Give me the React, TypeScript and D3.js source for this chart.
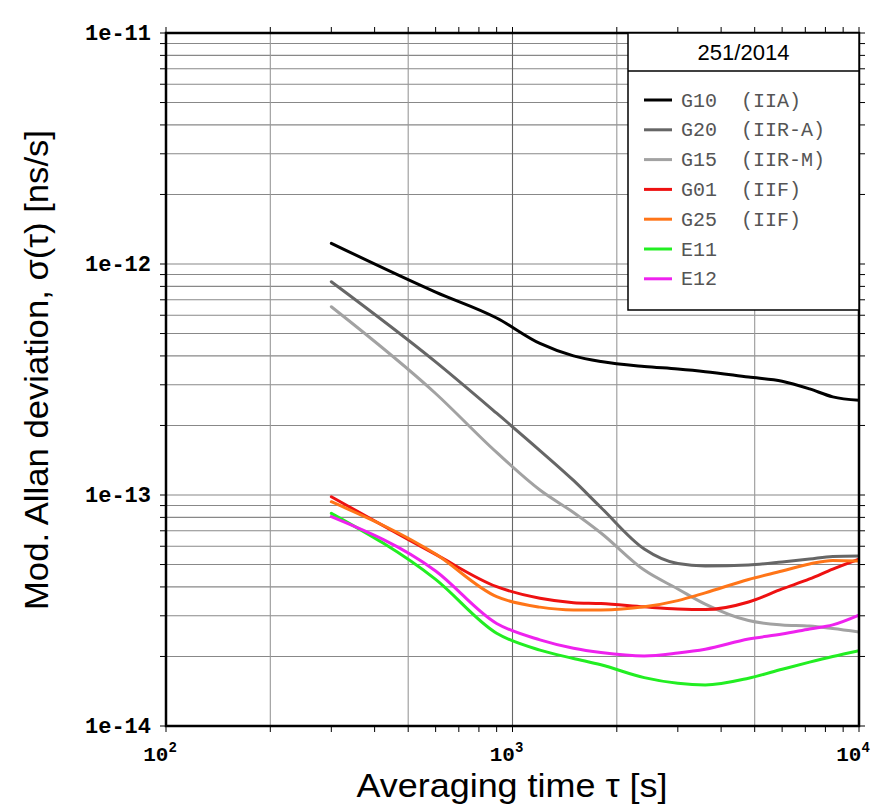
import React from "react";
import * as d3 from "d3";

const taus = [300, 600, 900, 1200, 1500, 1800, 2400, 3000, 3600, 4800, 6000, 7200, 8400, 10000];

const g10 = [1.229e-12, 7.56e-13, 5.84e-13, 4.53e-13, 4.0e-13, 3.78e-13, 3.6e-13, 3.51e-13, 3.42e-13, 3.24e-13, 3.11e-13, 2.88e-13, 2.66e-13, 2.57e-13];
const g20 = [8.38e-13, 3.77e-13, 2.26e-13, 1.558e-13, 1.156e-13, 8.83e-14, 5.84e-14, 5.05e-14, 4.93e-14, 4.98e-14, 5.13e-14, 5.28e-14, 5.42e-14, 5.44e-14];
const g15 = [6.53e-13, 2.75e-13, 1.528e-13, 1.051e-13, 8.4e-14, 6.85e-14, 4.73e-14, 3.92e-14, 3.37e-14, 2.86e-14, 2.74e-14, 2.71e-14, 2.64e-14, 2.55e-14];
const g01 = [9.83e-14, 5.53e-14, 4.01e-14, 3.57e-14, 3.42e-14, 3.39e-14, 3.28e-14, 3.21e-14, 3.19e-14, 3.44e-14, 3.92e-14, 4.33e-14, 4.78e-14, 5.28e-14];
const g25 = [9.35e-14, 5.55e-14, 3.63e-14, 3.27e-14, 3.18e-14, 3.18e-14, 3.28e-14, 3.49e-14, 3.77e-14, 4.31e-14, 4.69e-14, 5.03e-14, 5.21e-14, 5.18e-14];
const e11 = [8.33e-14, 4.31e-14, 2.52e-14, 2.13e-14, 1.96e-14, 1.84e-14, 1.62e-14, 1.53e-14, 1.505e-14, 1.61e-14, 1.76e-14, 1.89e-14, 2.0e-14, 2.12e-14];
const e12 = [8.06e-14, 4.69e-14, 2.78e-14, 2.36e-14, 2.17e-14, 2.08e-14, 2.01e-14, 2.07e-14, 2.15e-14, 2.38e-14, 2.5e-14, 2.63e-14, 2.74e-14, 3.02e-14];

const seriesNames = ["G10  (IIA)", "G20  (IIR-A)", "G15  (IIR-M)", "G01  (IIF)", "G25  (IIF)", "E11", "E12"];
const seriesValues = [g10, g20, g15, g01, g25, e11, e12];
const seriesColors = ["#000000", "#666666", "#a2a2a2", "#ee1111", "#ff7518", "#22ee22", "#ee22ee"];

const yTickValues = [1e-11, 1e-12, 1e-13, 1e-14];
const yTickLabels = ["1e-11", "1e-12", "1e-13", "1e-14"];
const xTickValues = [100, 1000, 10000];
const xTickExps = ["2", "3", "4"];
const legendTitle = "251/2014";

export default function App() {
  const W = 874, H = 806;
  const L = 166, R = 859, T = 33, B = 726;
  const x = d3.scaleLog().domain([100, 10000]).range([L, R]);
  const y = d3.scaleLog().domain([1e-14, 1e-11]).range([B, T]);

  const minorX: number[] = [];
  for (let e = 2; e < 4; e++) for (let m = 1; m <= 9; m++) minorX.push(m * Math.pow(10, e));
  minorX.push(10000);
  const minorY: number[] = [];
  for (let e = -14; e < -11; e++) for (let m = 1; m <= 9; m++) minorY.push(m * Math.pow(10, e));
  minorY.push(1e-11);
  const vGrid = [200, 500, 1000, 2000, 5000];

  const line = d3
    .line<[number, number]>()
    .x((d) => x(d[0]))
    .y((d) => y(d[1]))
    .curve(d3.curveMonotoneX);

  const legX = 628, legY = T, legW = R - 628, legH = 277, legHeader = 38;
  const mono = "'Liberation Mono', 'DejaVu Sans Mono', monospace";
  const sans = "'Liberation Sans', Arial, sans-serif";

  return (
    <svg width={W} height={H} style={{ position: "absolute", left: 0, top: 0, background: "#fff" }}>
      <rect x={0} y={0} width={W} height={H} fill="#fff" />
      <defs>
        <clipPath id="plotclip">
          <rect x={L} y={T} width={R - L} height={B - T} />
        </clipPath>
      </defs>
      {minorY.map((v, i) => (
        <line key={"hy" + i} x1={L} x2={R} y1={y(v)} y2={y(v)} stroke="#888" strokeWidth={1.1} />
      ))}
      {vGrid.map((v, i) => (
        <line key={"vx" + i} x1={x(v)} x2={x(v)} y1={T} y2={B} stroke={v === 1000 ? "#666" : "#999"} strokeWidth={1.1} />
      ))}
      <g clipPath="url(#plotclip)">
        {seriesValues.map((vals, i) => (
          <path
            key={"s" + i}
            d={line(taus.map((t, j) => [t, vals[j]] as [number, number])) || ""}
            fill="none"
            stroke={seriesColors[i]}
            strokeWidth={3}
            strokeLinejoin="round"
            strokeLinecap="round"
          />
        ))}
      </g>
      {minorY.map((v, i) => (
        <g key={"ty" + i}>
          <line x1={L - 6} x2={L} y1={y(v)} y2={y(v)} stroke="#000" strokeWidth={1} />
          <line x1={R} x2={R + 6} y1={y(v)} y2={y(v)} stroke="#000" strokeWidth={1} />
        </g>
      ))}
      {minorX.map((v, i) => (
        <g key={"tx" + i}>
          <line x1={x(v)} x2={x(v)} y1={B} y2={B + 6} stroke="#000" strokeWidth={1} />
          <line x1={x(v)} x2={x(v)} y1={T - 6} y2={T} stroke="#000" strokeWidth={1} />
        </g>
      ))}
      <rect x={L} y={T} width={R - L} height={B - T} fill="none" stroke="#000" strokeWidth={2.5} />
      {/* legend */}
      <rect x={legX} y={legY} width={legW} height={legH} fill="#fff" stroke="#000" strokeWidth={1.5} />
      <line x1={legX} x2={legX + legW} y1={legY + legHeader} y2={legY + legHeader} stroke="#000" strokeWidth={1.5} />
      <text x={legX + legW / 2} y={legY + 27} textAnchor="middle" fontFamily={sans} fontSize={22} fill="#000">
        {legendTitle}
      </text>
      {seriesNames.map((n, i) => {
        const ry = legY + 67 + i * 29.8;
        return (
          <g key={"lg" + i}>
            <line x1={legX + 16} x2={legX + 44} y1={ry} y2={ry} stroke={seriesColors[i]} strokeWidth={3} />
            <text x={legX + 53} y={ry + 6.5} fontFamily={mono} fontSize={20} fill="#555" style={{ whiteSpace: "pre" }}>
              {n}
            </text>
          </g>
        );
      })}
      {yTickValues.map((v, i) => (
        <text key={"yl" + i} x={L - 15} y={y(v) + 7} textAnchor="end" fontFamily={mono} fontWeight="bold" fontSize={22} fill="#000">
          {yTickLabels[i]}
        </text>
      ))}
      {xTickValues.map((v, i) => (
        <text key={"xl" + i} x={x(v) - 6} y={B + 35} textAnchor="middle" fontFamily={mono} fontWeight="bold" fontSize={21} fill="#000">
          10
          <tspan dy={-9} fontSize={14}>
            {xTickExps[i]}
          </tspan>
        </text>
      ))}
      <text
        x={512}
        y={797}
        textAnchor="middle"
        fontFamily={sans}
        fontSize={34}
        textLength={311}
        lengthAdjust="spacingAndGlyphs"
        fill="#000"
      >
        Averaging time τ [s]
      </text>
      <text
        transform={`translate(48, 370) rotate(-90)`}
        textAnchor="middle"
        fontFamily={sans}
        fontSize={34}
        textLength={480}
        lengthAdjust="spacingAndGlyphs"
        fill="#000"
      >
        Mod. Allan deviation, σ(τ) [ns/s]
      </text>
    </svg>
  );
}
